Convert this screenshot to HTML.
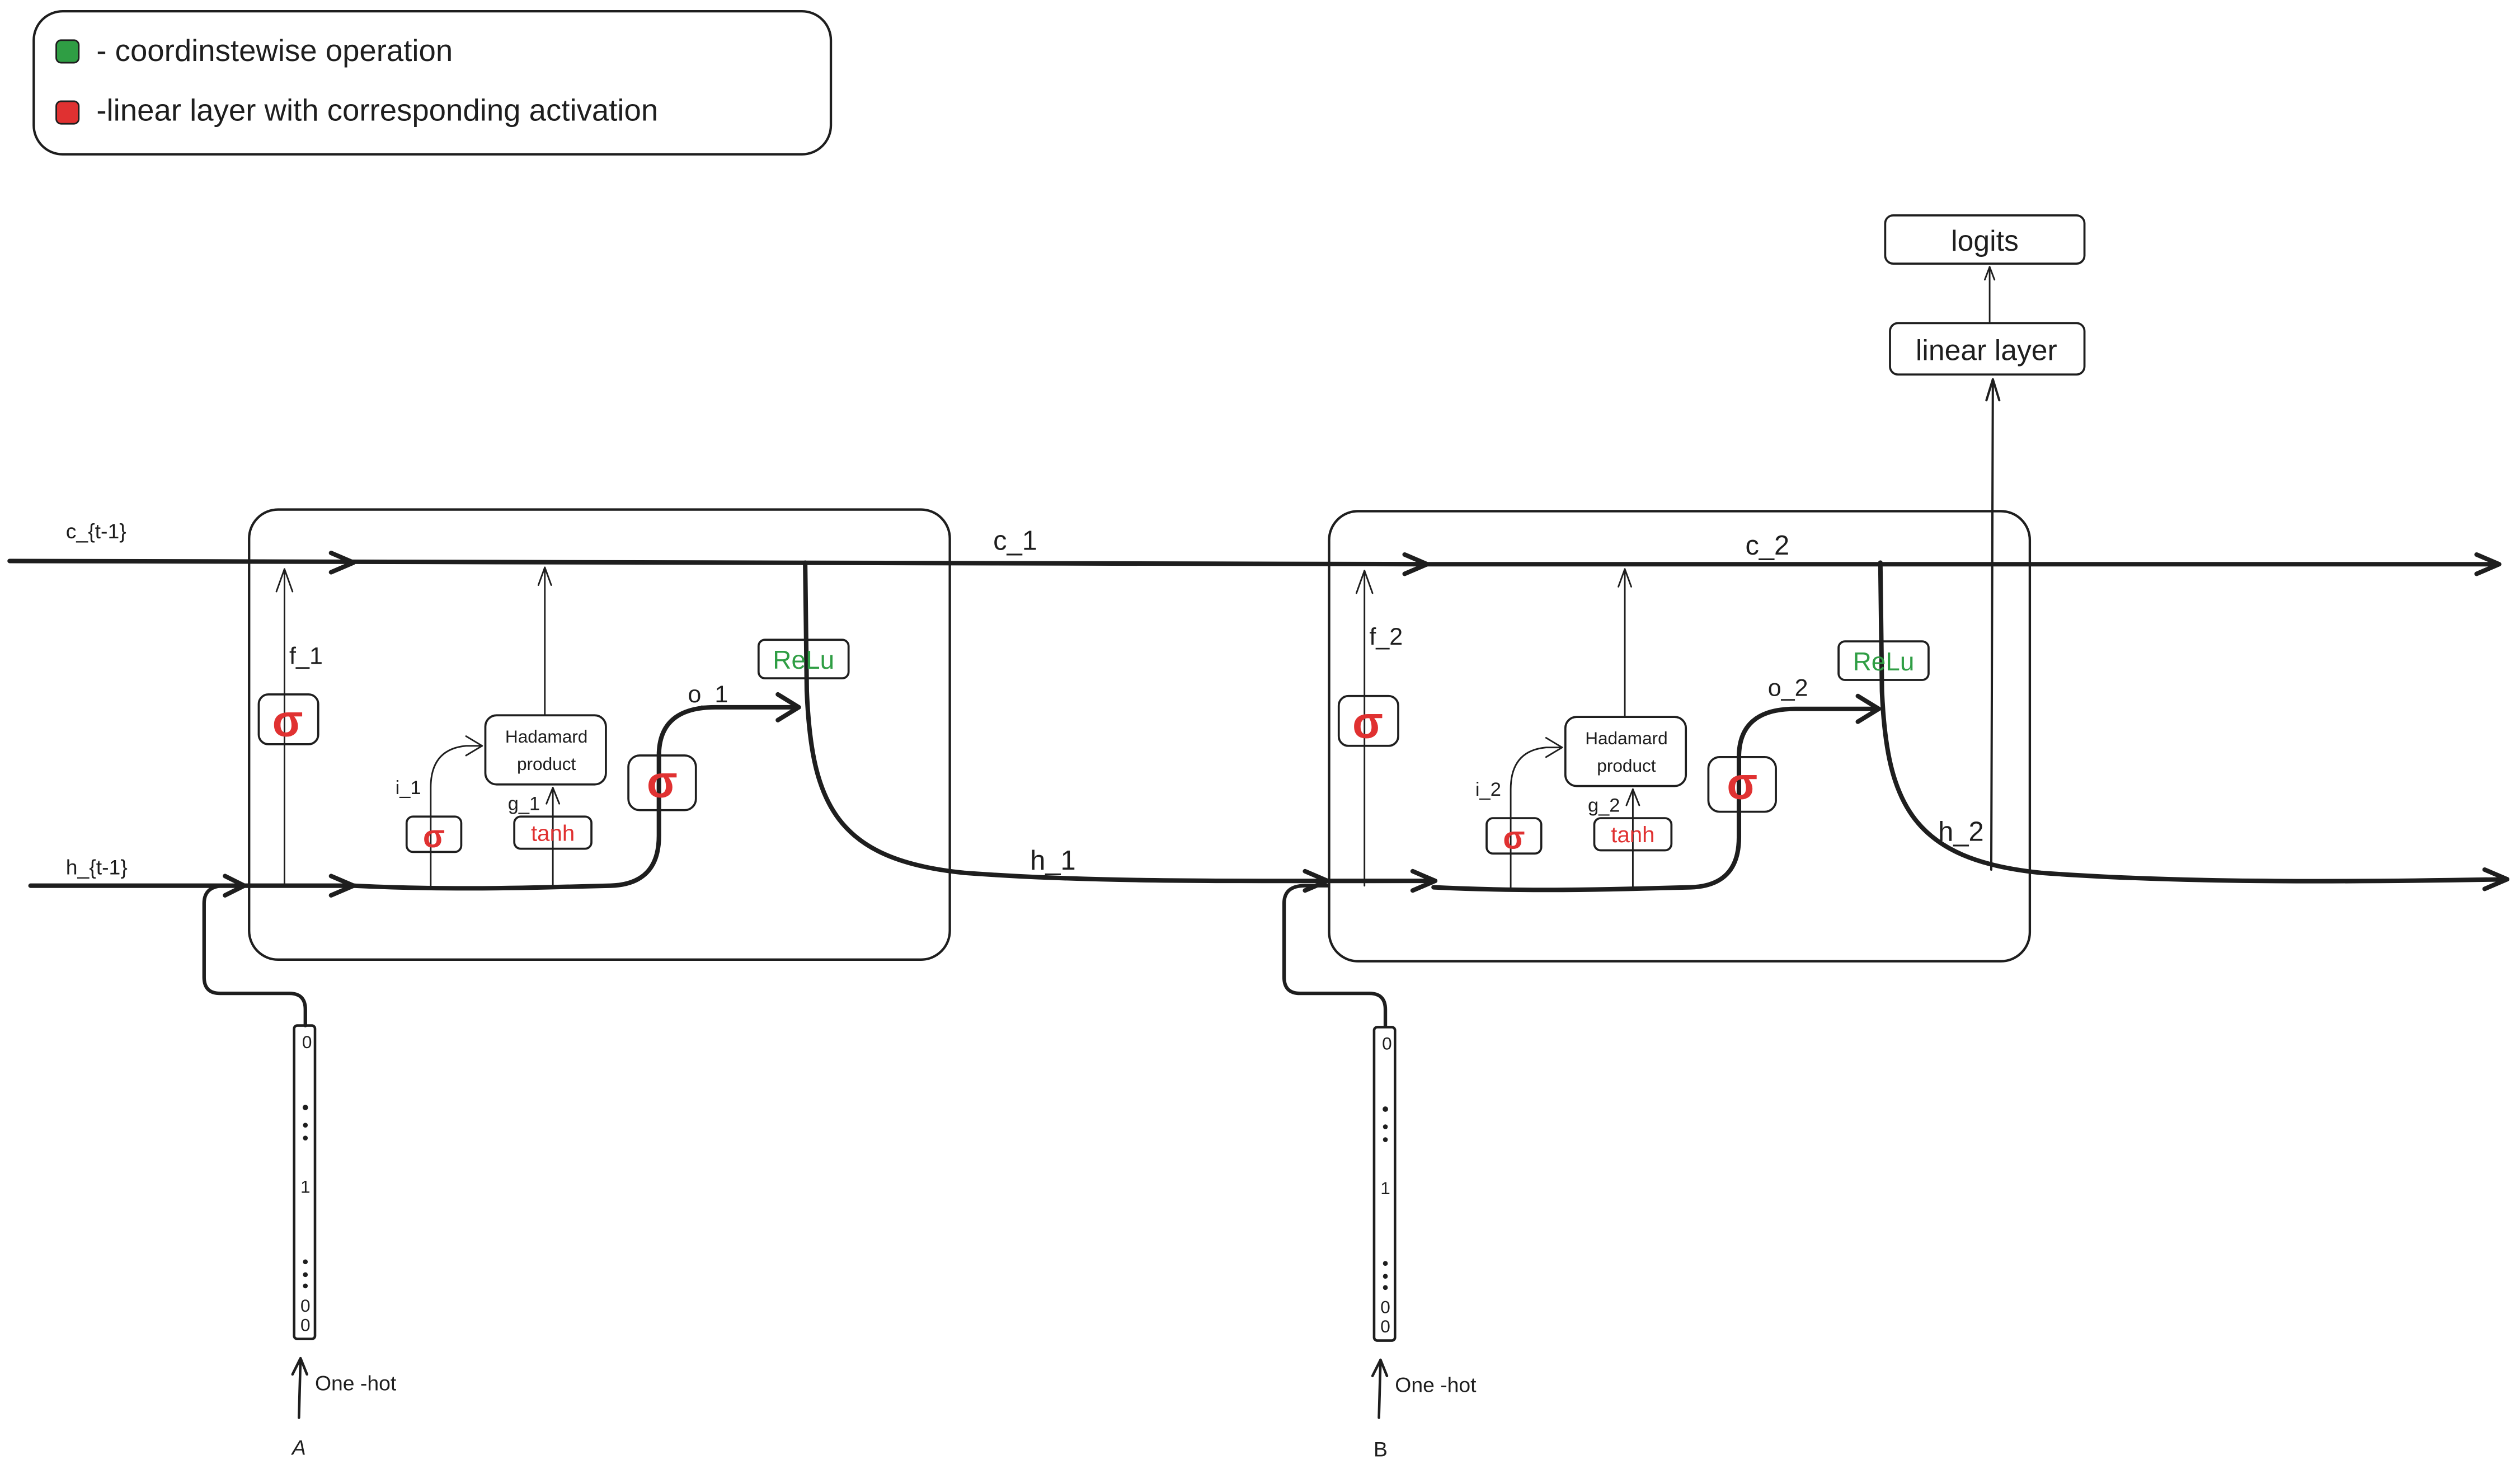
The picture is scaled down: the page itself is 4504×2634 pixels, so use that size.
<!DOCTYPE html>
<html><head><meta charset="utf-8"><style>
html,body{margin:0;padding:0;background:#fff;}
svg{display:block;}
text{font-family:"Liberation Sans",sans-serif;fill:#1e1e1e;}
</style></head><body>
<svg width="4504" height="2634" viewBox="0 0 1568 917" preserveAspectRatio="none" xmlns="http://www.w3.org/2000/svg">
<defs>
<g id="cell" fill="none" stroke="#1e1e1e" stroke-linecap="round" stroke-linejoin="round">
  <rect x="155" y="317" width="436" height="280" rx="18" stroke-width="1.5"/>
  <!-- f -->
  <line x1="177" y1="550" x2="177" y2="354" stroke-width="1"/>
  <polyline points="172,368 177,354 182,368" stroke-width="1"/>
  <rect x="161" y="432" width="37" height="31" rx="6" stroke-width="1.3"/>
  <!-- i -->
  <path d="M268,551 L268,490 Q268,466 290,464 L300,464" stroke-width="1"/>
  <polyline points="290,458 300,464 290,470" stroke-width="1"/>
  <rect x="253" y="508" width="34" height="22" rx="4" stroke-width="1.3"/>
  <!-- hadamard -->
  <rect x="302" y="445" width="75" height="43" rx="7" stroke-width="1.3"/>
  <line x1="344" y1="551" x2="344" y2="490" stroke-width="1"/>
  <polyline points="340,500 344,490 348,500" stroke-width="1"/>
  <rect x="320" y="508" width="48" height="20" rx="4" stroke-width="1.3"/>
  <line x1="339" y1="445" x2="339" y2="353" stroke-width="1"/>
  <polyline points="335,364 339,353 343,364" stroke-width="1"/>
  <!-- o -->
  <rect x="391" y="470" width="42" height="34" rx="7" stroke-width="1.3"/>
  <path d="M220,551 C260,553 300,553 340,552 L380,551 Q410,550 410,520 L410,470 Q410,440 445,440 L497,440" stroke-width="2.8"/>
  <polyline points="484,432 497,440 484,448" stroke-width="2.8"/>
  <rect x="472" y="398" width="56" height="24" rx="4" stroke-width="1.3"/>
</g>
</defs>

<!-- legend -->
<rect x="21" y="7" width="496" height="89" rx="18" fill="none" stroke="#1e1e1e" stroke-width="1.5"/>
<rect x="35" y="25" width="14" height="14" rx="3" fill="#2f9e44" stroke="#1e1e1e" stroke-width="1"/>
<rect x="35" y="63" width="14" height="14" rx="3" fill="#e03131" stroke="#1e1e1e" stroke-width="1"/>
<text x="60" y="38" font-size="19">- coordinstewise operation</text>
<text x="60" y="75" font-size="19">-linear layer with corresponding activation</text>

<use href="#cell"/>
<use href="#cell" transform="translate(672,1)"/>

<g fill="none" stroke="#1e1e1e" stroke-linecap="round" stroke-linejoin="round">
  <!-- c line -->
  <path d="M6,349 L888,351 L1555,351" stroke-width="2.8"/>
  <polyline points="206,344 220,350 206,356" stroke-width="2.8"/>
  <polyline points="874,345 888,351 874,357" stroke-width="2.8"/>
  <polyline points="1541,345 1555,351 1541,357" stroke-width="2.8"/>
  <!-- h line in -->
  <path d="M19,551 L220,551" stroke-width="2.8"/>
  <polyline points="140,545 152,551 140,557" stroke-width="2.8"/>
  <polyline points="206,545 220,551 206,557" stroke-width="2.8"/>
  <!-- h_1 -->
  <path d="M501,350 L502,430 C505,500 520,535 600,543 C680,549 760,548 893,548" stroke-width="2.8"/>
  <polyline points="812,542 826,548 812,554" stroke-width="2.8"/>
  <polyline points="879,542 893,548 879,554" stroke-width="2.8"/>
  <!-- h_2 -->
  <path d="M1170,350 L1171,430 C1174,500 1190,535 1270,543 C1350,549 1450,549 1560,547" stroke-width="2.8"/>
  <polyline points="1546,541 1560,547 1546,553" stroke-width="2.8"/>
  <!-- inputs -->
  <path d="M190,638 L190,628 Q190,618 180,618 L137,618 Q127,618 127,608 L127,562 Q127,551 140,551 L152,551" stroke-width="2.2"/>
  <path d="M862,638 L862,628 Q862,618 852,618 L809,618 Q799,618 799,608 L799,562 Q799,551 812,551 L826,551" stroke-width="2.2"/>
  <rect x="183" y="638" width="13" height="195" rx="2" stroke-width="1.6"/>
  <rect x="855" y="639" width="13" height="195" rx="2" stroke-width="1.6"/>
  <line x1="186" y1="882" x2="187" y2="845" stroke-width="1.6"/>
  <polyline points="182,855 187,845 191,855" stroke-width="1.6"/>
  <line x1="858" y1="882" x2="859" y2="846" stroke-width="1.6"/>
  <polyline points="854,856 859,846 863,856" stroke-width="1.6"/>
  <!-- output -->
  <rect x="1176" y="201" width="121" height="32" rx="5" stroke-width="1.3"/>
  <rect x="1173" y="134" width="124" height="30" rx="5" stroke-width="1.3"/>
  <line x1="1238" y1="200" x2="1238" y2="166" stroke-width="1"/>
  <polyline points="1235,174 1238,166 1241,174" stroke-width="1"/>
  <line x1="1239" y1="541" x2="1240" y2="236" stroke-width="1.4"/>
  <polyline points="1236,249 1240,236 1244,249" stroke-width="1.4"/>
</g>
<g fill="#1e1e1e">
  <circle cx="190" cy="689" r="1.7"/><circle cx="190" cy="700" r="1.5"/><circle cx="190" cy="708" r="1.5"/>
  <circle cx="190" cy="785" r="1.5"/><circle cx="190" cy="793" r="1.5"/><circle cx="190" cy="800" r="1.5"/>
  <circle cx="862" cy="690" r="1.7"/><circle cx="862" cy="701" r="1.5"/><circle cx="862" cy="709" r="1.5"/>
  <circle cx="862" cy="786" r="1.5"/><circle cx="862" cy="794" r="1.5"/><circle cx="862" cy="801" r="1.5"/>
</g>
<g font-size="11" text-anchor="middle">
  <text x="191" y="652">0</text><text x="190" y="742">1</text><text x="190" y="816">0</text><text x="190" y="828">0</text>
  <text x="863" y="653">0</text><text x="862" y="743">1</text><text x="862" y="817">0</text><text x="862" y="829">0</text>
</g>
<text x="196" y="865" font-size="13">One -hot</text>
<text x="868" y="866" font-size="13">One -hot</text>
<text x="186" y="905" font-size="13" text-anchor="middle" font-style="italic">A</text>
<text x="859" y="906" font-size="13" text-anchor="middle">B</text>

<!-- labels -->
<text x="41" y="335" font-size="13">c_{t-1}</text>
<text x="41" y="544" font-size="13">h_{t-1}</text>
<text x="618" y="342" font-size="17">c_1</text>
<text x="1086" y="345" font-size="17">c_2</text>
<text x="641" y="541" font-size="17">h_1</text>
<text x="1206" y="523" font-size="17">h_2</text>
<text x="1236" y="224" font-size="18" text-anchor="middle">linear layer</text>
<text x="1235" y="156" font-size="18" text-anchor="middle">logits</text>

<g id="l1">
<text x="180" y="413" font-size="15">f_1</text>
<text x="246" y="494" font-size="12">i_1</text>
<text x="316" y="504" font-size="12">g_1</text>
<text x="428" y="437" font-size="15">o_1</text>
</g>
<text x="852" y="401" font-size="15">f_2</text>
<text x="918" y="495" font-size="12">i_2</text>
<text x="988" y="505" font-size="12">g_2</text>
<text x="1100" y="433" font-size="15">o_2</text>

<g font-weight="bold" text-anchor="middle">
  <text x="179" y="458" font-size="28" style="fill:#e03131">σ</text>
  <text x="270" y="527" font-size="20" style="fill:#e03131">σ</text>
  <text x="412" y="496" font-size="28" style="fill:#e03131">σ</text>
  <text x="851" y="459" font-size="28" style="fill:#e03131">σ</text>
  <text x="942" y="528" font-size="20" style="fill:#e03131">σ</text>
  <text x="1084" y="497" font-size="28" style="fill:#e03131">σ</text>
</g>
<g text-anchor="middle">
  <text x="344" y="523" font-size="14" style="fill:#e03131">tanh</text>
  <text x="1016" y="524" font-size="14" style="fill:#e03131">tanh</text>
  <text x="500" y="416" font-size="16" style="fill:#2f9e44">ReLu</text>
  <text x="1172" y="417" font-size="16" style="fill:#2f9e44">ReLu</text>
  <text x="340" y="462" font-size="11">Hadamard</text>
  <text x="340" y="479" font-size="11">product</text>
  <text x="1012" y="463" font-size="11">Hadamard</text>
  <text x="1012" y="480" font-size="11">product</text>
</g>
</svg>
</body></html>
